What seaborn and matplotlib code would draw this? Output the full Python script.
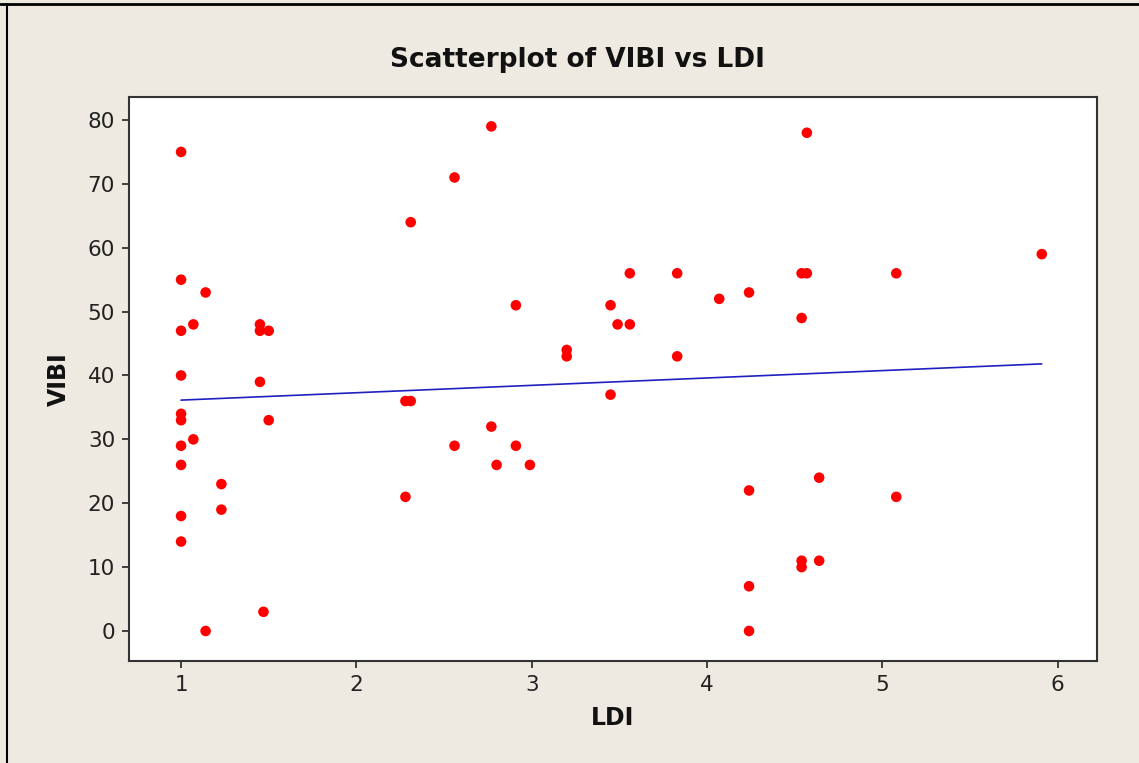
import matplotlib
matplotlib.use("Agg")
import matplotlib.pyplot as plt
import seaborn as sns
import pandas as pd
from matplotlib.lines import Line2D

# Data
ldi = [1.0, 1.0, 1.0, 1.0, 1.0, 1.0, 1.0, 1.0, 1.0, 1.0,
       1.07, 1.07, 1.14, 1.14, 1.23, 1.23,
       1.45, 1.45, 1.45, 1.50, 1.50, 1.47,
       2.28, 2.28, 2.31, 2.31, 2.56, 2.56, 2.77, 2.77, 2.80,
       2.91, 2.91, 2.99, 3.20, 3.20, 3.45, 3.45, 3.49, 3.56, 3.56,
       3.83, 3.83, 4.07, 4.24, 4.24, 4.24, 4.24,
       4.54, 4.54, 4.54, 4.54, 4.57, 4.57, 4.64, 4.64,
       5.08, 5.08, 5.91]
vibi = [75, 55, 47, 40, 34, 33, 29, 26, 18, 14,
        48, 30, 53, 0, 23, 19,
        48, 47, 39, 47, 33, 3,
        36, 21, 64, 36, 71, 29, 79, 32, 26,
        51, 29, 26, 44, 43, 51, 37, 48, 56, 48,
        56, 43, 52, 53, 22, 7, 0,
        56, 49, 11, 10, 56, 78, 24, 11,
        56, 21, 59]
x_ticks = [1, 2, 3, 4, 5, 6]
y_ticks = [0, 10, 20, 30, 40, 50, 60, 70, 80]

df = pd.DataFrame({"LDI": ldi, "VIBI": vibi})

sns.set_theme(style="white")
plt.rcParams['font.family'] = ['DejaVu Sans']

bg = "#EEEAE1"
fig = plt.figure(figsize=(11.39, 7.63), dpi=100, facecolor=bg)
ax = fig.add_axes([129/1139, 1-661/763, (1097-129)/1139, (661-97)/763])
ax.set_facecolor("white")

sns.regplot(data=df, x="LDI", y="VIBI", ax=ax, ci=None, truncate=True,
            scatter_kws=dict(color="#FF0000", s=58, edgecolor="none", alpha=1, zorder=3),
            line_kws=dict(color="#2020C0", lw=1.2, zorder=2))

ax.set_xlim(0.703, 6.225)
ax.set_ylim(-4.7, 83.6)
ax.set_xticks(x_ticks)
ax.set_yticks(y_ticks)
ax.tick_params(axis="both", which="major", direction="out", length=5, width=1.2,
               color="#222222", labelsize=15.5, labelcolor="#222222", bottom=True, left=True,
               pad=5)
for s in ax.spines.values():
    s.set_color("#333333")
    s.set_linewidth(1.5)

ax.set_xlabel("LDI", fontsize=17, fontweight="bold", color="#111111", labelpad=8)
ax.set_ylabel("VIBI", fontsize=17, fontweight="bold", color="#111111", labelpad=12)

fig.text(0.507, 1-60/763, "Scatterplot of VIBI vs LDI", ha="center", va="center",
         fontsize=19, fontweight="bold", color="#111111")

# Window-style border: top and left edges only
fig.add_artist(Line2D([0, 1], [1-4/763, 1-4/763], transform=fig.transFigure,
                      color="black", lw=2))
fig.add_artist(Line2D([7/1139, 7/1139], [0, 1-4/763], transform=fig.transFigure,
                      color="black", lw=1.5))

fig.savefig("out.png", dpi=100, facecolor=bg)
